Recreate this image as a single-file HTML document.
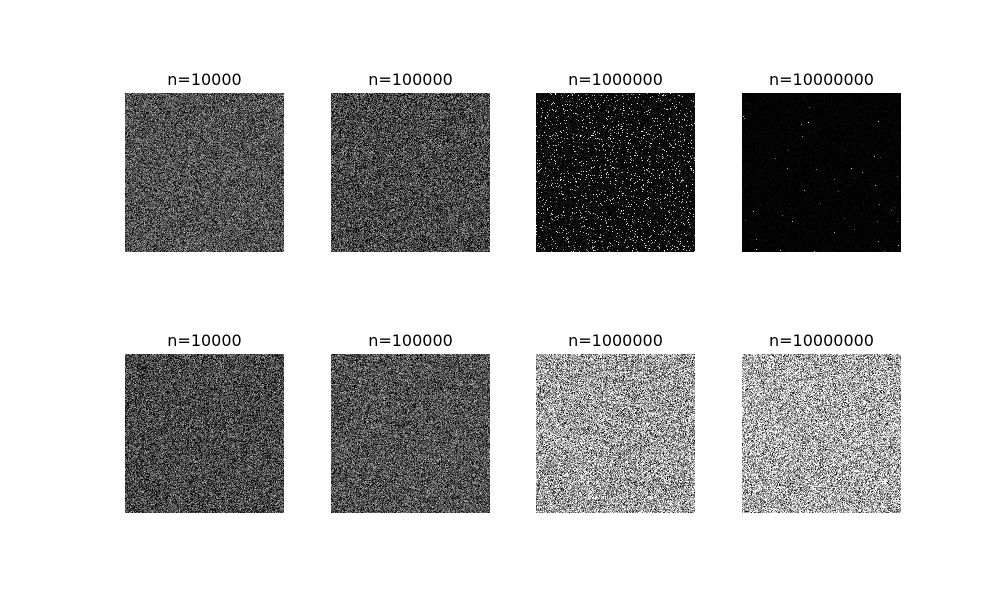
<!DOCTYPE html>
<html>
<head>
<meta charset="utf-8">
<style>
  html,body{margin:0;padding:0;background:#fff;}
  #wrap{position:relative;width:1000px;height:600px;overflow:hidden;font-family:"DejaVu Sans","Liberation Sans",sans-serif;}
  .title{position:absolute;width:200px;text-align:center;font-size:16px;line-height:20px;color:#000;}
  canvas{position:absolute;width:159px;height:159px;image-rendering:pixelated;}
</style>
</head>
<body>
<div id="wrap"></div>
<script>
// Panel data
const titles = ["n=10000","n=100000","n=1000000","n=10000000","n=10000","n=100000","n=1000000","n=10000000"];
const means = [0.32, 0.28, 0.03, 0.01, 0.28, 0.32, 0.63, 0.68];
const spreads = [0.16, 0.17, 0.06, 0.02, 0.17, 0.17, 0.26, 0.27];
const speckleRates = [0, 0, 0.06, 0.0015, 0, 0, 0, 0];
const speckleLevels = [0, 0, 0.5, 0.25, 0, 0, 0, 0];
const colLeft = [125, 331, 536, 742];
const rowTop = [93, 354];
const size = 159;

const wrap = document.getElementById('wrap');
let seed = 12345;
function rnd(){ seed = (seed * 1664525 + 1013904223) >>> 0; return seed / 4294967296; }
function gauss(){ return (rnd()+rnd()+rnd()+rnd()-2) * 1.732; }

titles.forEach((t, i) => {
  const r = Math.floor(i / 4), c = i % 4;
  const x = colLeft[c], y = rowTop[r];
  const lab = document.createElement('div');
  lab.className = 'title';
  lab.textContent = t;
  lab.style.left = (x + size/2 - 100) + 'px';
  lab.style.top = (y - 23) + 'px';
  
  
  wrap.appendChild(lab);

  const cv = document.createElement('canvas');
  cv.width = size; cv.height = size;
  cv.style.left = x + 'px'; cv.style.top = y + 'px';
  
  
  const ctx = cv.getContext('2d');
  const img = ctx.createImageData(size, size);
  const m = means[i], s = spreads[i], sp = speckleRates[i], sl = speckleLevels[i];
  for (let p = 0; p < size*size; p++) {
    let v;
    if (sp > 0 && rnd() < sp) {
      v = sl + (1 - sl)*rnd();
    } else {
      v = m + s * gauss();
    }
    v = Math.max(0, Math.min(1, v));
    const b = Math.round(v * 255);
    img.data[p*4] = b; img.data[p*4+1] = b; img.data[p*4+2] = b; img.data[p*4+3] = 255;
  }
  ctx.putImageData(img, 0, 0);
  wrap.appendChild(cv);
});
</script>
</body>
</html>
